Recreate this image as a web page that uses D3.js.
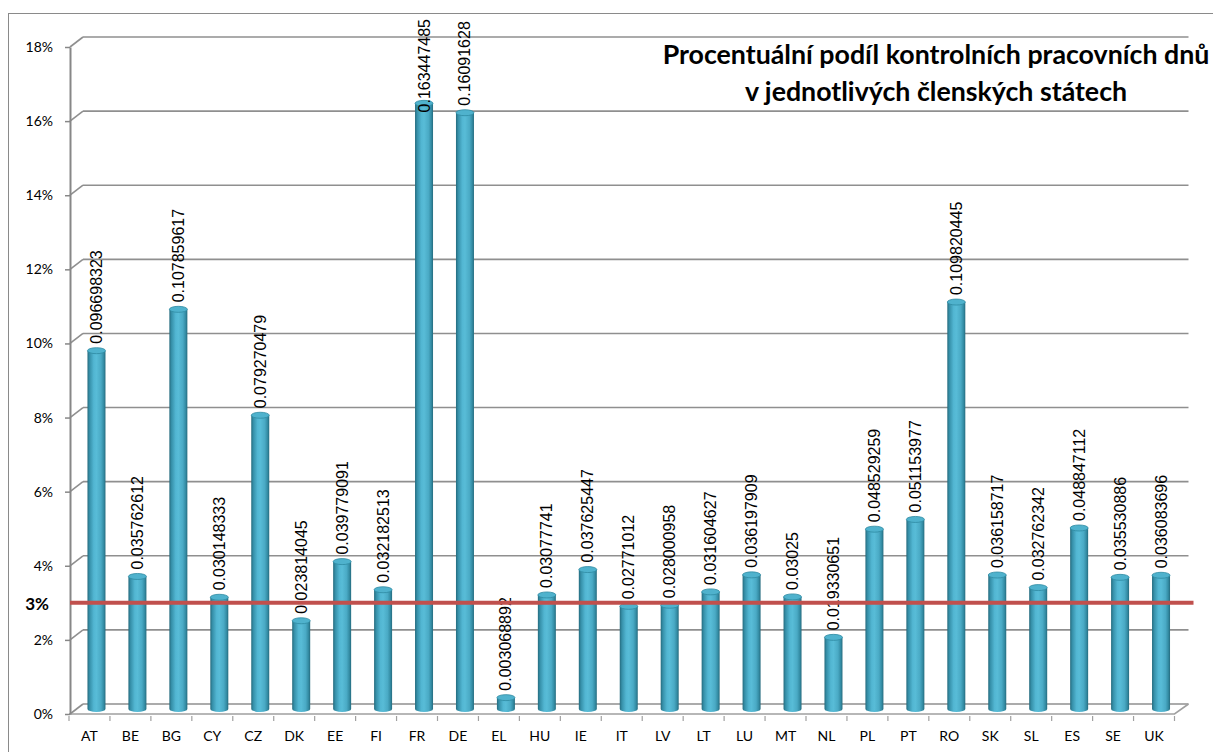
<!DOCTYPE html>
<html>
<head>
<meta charset="utf-8">
<script src="https://cdn.jsdelivr.net/npm/d3@7"></script>
<style>
  body { margin: 0; background: #fff; }
  svg { display: block; }
</style>
</head>
<body>
<div id="chart"></div>
<script>
const countries = ["AT", "BE", "BG", "CY", "CZ", "DK", "EE", "FI", "FR", "DE", "EL", "HU", "IE", "IT",
  "LV", "LT", "LU", "MT", "NL", "PL", "PT", "RO", "SK", "SL", "ES", "SE", "UK"]
const shares = [0.096698323, 0.035762612, 0.107859617, 0.030148333, 0.079270479, 0.023814045,
  0.039779091, 0.032182513, 0.163447485, 0.16091628, 0.003068892, 0.03077741, 0.037625447,
  0.02771012, 0.028000958, 0.031604627, 0.036197909, 0.03025, 0.019330651, 0.048529259,
  0.051153977, 0.109820445, 0.036158717, 0.032762342, 0.048847112, 0.035530886, 0.036083696]
const labels = ["0.096698323", "0.035762612", "0.107859617", "0.030148333", "0.079270479", "0.023814045",
  "0.039779091", "0.032182513", "0.163447485", "0.16091628", "0.003068892", "0.03077741", "0.037625447",
  "0.02771012", "0.028000958", "0.031604627", "0.036197909", "0.03025", "0.019330651", "0.048529259",
  "0.051153977", "0.109820445", "0.036158717", "0.032762342", "0.048847112", "0.035530886", "0.036083696"]
const yTicks = [0, 0.02, 0.04, 0.06, 0.08, 0.1, 0.12, 0.14, 0.16, 0.18]
const threshold = 0.03
const thresholdLabel = "3%"
const titleLines = ["Procentuální podíl kontrolních pracovních dnů", "v jednotlivých členských státech"]

const WIDTH = 1213, HEIGHT = 752
const PLOT = { LEFT: 69, RIGHT: 1174.5, TOP: 47, BOTTOM: 714 }
const DEPTH = { X: 14, Y: -10 }
const GRID = "#8f8f8f"
const TITLE = { X: 936, Y: 64, LINE: 37, WIDTH: 547 }

const data = countries.map((c, i) => ({ country: c, value: shares[i], label: labels[i] }))

const svg = d3.select("#chart").append("svg")
  .attr("width", WIDTH)
  .attr("height", HEIGHT)

// chart area border
svg.append("rect")
  .attr("x", 8.5).attr("y", 13.5)
  .attr("width", 1300).attr("height", 800)
  .attr("fill", "#fff")
  .attr("stroke", "#8a8a8a")

const x = d3.scaleBand()
  .domain(countries)
  .range([PLOT.LEFT, PLOT.RIGHT])

const y = d3.scaleLinear()
  .domain([0, 0.18])
  .range([PLOT.BOTTOM, PLOT.TOP])

// gradient for cylinders
const defs = svg.append("defs")
const grad = defs.append("linearGradient").attr("id", "cyl")
  .attr("x1", "0%").attr("x2", "100%").attr("y1", "0%").attr("y2", "0%")
const stops = [[0, "#256b7e"], [0.12, "#3690a9"], [0.35, "#52b6d2"], [0.5, "#58bcd7"],
  [0.75, "#4aaac5"], [0.9, "#348ca4"], [1, "#256b7e"]]
stops.forEach(s => grad.append("stop").attr("offset", s[0]).attr("stop-color", s[1]))

// back wall gridlines + side wall diagonals
const grid = svg.append("g")
grid.selectAll(".back").data(yTicks).enter().append("line")
  .attr("x1", PLOT.LEFT + DEPTH.X).attr("x2", PLOT.RIGHT + DEPTH.X)
  .attr("y1", d => y(d) + DEPTH.Y).attr("y2", d => y(d) + DEPTH.Y)
  .attr("stroke", GRID).attr("stroke-width", 1.6)
grid.selectAll(".side").data(yTicks).enter().append("line")
  .attr("x1", PLOT.LEFT + 1).attr("x2", PLOT.LEFT + DEPTH.X)
  .attr("y1", d => y(d)).attr("y2", d => y(d) + DEPTH.Y)
  .attr("stroke", GRID).attr("stroke-width", 1.6)

// floor
svg.append("path")
  .attr("d", `M${PLOT.LEFT},${PLOT.BOTTOM}H${PLOT.RIGHT}L${PLOT.RIGHT + DEPTH.X},${PLOT.BOTTOM + DEPTH.Y}`)
  .attr("fill", "none").attr("stroke", "#a0a0a0").attr("stroke-width", 1.6)

// y axis
const yAxis = svg.append("g")
  .attr("transform", `translate(${PLOT.LEFT + 1},0)`)
  .call(d3.axisLeft(y).tickValues(yTicks).tickFormat(d3.format(".0%")).tickSizeInner(5).tickSizeOuter(0).tickPadding(12))
yAxis.select(".domain").attr("stroke", "#878787").attr("stroke-width", 2)
yAxis.selectAll(".tick line").attr("stroke", "#878787").attr("stroke-width", 1.5)
yAxis.selectAll(".tick text")
  .attr("font-family", "Lato, sans-serif").attr("font-size", 14).attr("fill", "#000")

// x axis
const xAxis = svg.append("g")
  .attr("transform", `translate(0,${PLOT.BOTTOM})`)
  .call(d3.axisBottom(x).tickSize(0).tickPadding(17))
xAxis.select(".domain").remove()
xAxis.selectAll(".tick text")
  .attr("font-family", "Lato, sans-serif").attr("font-size", 14).attr("fill", "#000")
svg.append("g").selectAll("line")
  .data(countries.concat([null])).enter().append("line")
  .attr("x1", d => d === null ? PLOT.RIGHT : x(d))
  .attr("x2", d => d === null ? PLOT.RIGHT : x(d))
  .attr("y1", PLOT.BOTTOM + 2).attr("y2", PLOT.BOTTOM + 7)
  .attr("stroke", "#a0a0a0").attr("stroke-width", 1.2)

// cylinders
const RX = 9, RY = 3
const barX = d => x(d.country) + x.bandwidth() / 2 + DEPTH.X / 2
const barBase = y(0) + DEPTH.Y / 2
const barTop = d => y(d.value) + DEPTH.Y / 2

const bars = svg.append("g").selectAll("g")
  .data(data).enter().append("g")

bars.append("path")
  .attr("d", d => `M${barX(d) - RX},${barTop(d)} V${barBase} A${RX},${RY} 0 0 0 ${barX(d) + RX},${barBase} V${barTop(d)} Z`)
  .attr("fill", "url(#cyl)")
bars.append("ellipse")
  .attr("cx", barX).attr("cy", barTop)
  .attr("rx", RX).attr("ry", RY)
  .attr("fill", "#4fb2cd")
  .attr("stroke", "#2f8aa2").attr("stroke-width", 0.8)

// data labels
const valueLabels = svg.append("g").selectAll("text")
  .data(data).enter().append("text")
  .attr("font-family", "'Liberation Sans', Arial, sans-serif")
  .attr("font-size", 16)
  .attr("fill", "#000")
  .attr("text-anchor", "start")
  .attr("dominant-baseline", "central")
  .text(d => d.label)
valueLabels.each(function (d) {
  const len = this.getComputedTextLength()
  const start = Math.max(barTop(d) - 7, 19 + len)
  d3.select(this).attr("transform", `translate(${barX(d)},${start}) rotate(-90)`)
})

// 3% threshold line
svg.append("line")
  .attr("x1", PLOT.LEFT + 1).attr("x2", PLOT.RIGHT + 19)
  .attr("y1", y(threshold)).attr("y2", y(threshold))
  .attr("stroke", "#c0504d").attr("stroke-width", 4)
svg.append("text")
  .attr("x", 49).attr("y", y(threshold) + 1)
  .attr("text-anchor", "end")
  .attr("dominant-baseline", "central")
  .attr("font-family", "Lato, sans-serif")
  .attr("font-weight", "bold")
  .attr("font-size", 17)
  .text(thresholdLabel)

// title, sized so the first line spans the same width as in the original
const title = svg.append("g")
  .attr("font-family", "Lato, sans-serif")
  .attr("font-weight", "bold")
  .attr("text-anchor", "middle")
  .attr("font-size", 24)
const titleTexts = title.selectAll("text")
  .data(titleLines).enter().append("text")
  .attr("x", TITLE.X)
  .attr("y", (d, i) => TITLE.Y + i * TITLE.LINE)
  .text(d => d)
const measured = titleTexts.node().getComputedTextLength()
title.attr("font-size", 24 * TITLE.WIDTH / measured)
</script>
</body>
</html>
